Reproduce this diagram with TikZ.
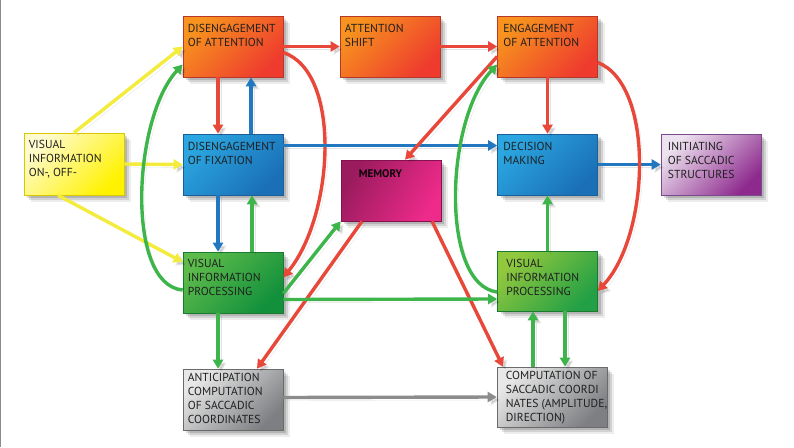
\documentclass[tikz,border=0pt]{standalone}
\usepackage{fontspec}
\setmainfont{PT Sans}
\usetikzlibrary{arrows.meta,shadows}
\definecolor{orA}{HTML}{F7931E}
\definecolor{orB}{HTML}{EE3B2E}
\definecolor{orD}{HTML}{B8372B}
\definecolor{blA}{HTML}{2BA6E0}
\definecolor{blB}{HTML}{1A6FB7}
\definecolor{blD}{HTML}{1A5E9A}
\definecolor{yeA}{HTML}{FFFBD0}
\definecolor{yeB}{HTML}{FFF200}
\definecolor{yeD}{HTML}{D8C800}
\definecolor{grA}{HTML}{5CBB4A}
\definecolor{grB}{HTML}{12903C}
\definecolor{grD}{HTML}{1A7A30}
\definecolor{lgA}{HTML}{92C83E}
\definecolor{lgB}{HTML}{23A045}
\definecolor{mgA}{HTML}{9A1B5E}
\definecolor{mgB}{HTML}{EE2A8A}
\definecolor{mgD}{HTML}{85124F}
\definecolor{puA}{HTML}{EDE3F0}
\definecolor{puB}{HTML}{8E2A8E}
\definecolor{puD}{HTML}{7B4A8C}
\definecolor{gyA}{HTML}{E8E8E8}
\definecolor{gyB}{HTML}{7D7F82}
\definecolor{gyD}{HTML}{6A6A6A}
\definecolor{aR}{HTML}{E8483A}
\definecolor{aB}{HTML}{2178C0}
\definecolor{aG}{HTML}{3DB54A}
\definecolor{aY}{HTML}{F4EC3C}
\definecolor{aGy}{HTML}{8C8C8C}
\begin{document}
\begin{tikzpicture}[x=1pt,y=-1pt,
  boxbase/.style={rectangle, minimum width=100pt, minimum height=61pt, inner sep=0pt, line width=0.6pt,
    general shadow={shadow xshift=3pt,shadow yshift=-3pt,fill=black,opacity=0.14},
    general shadow={shadow xshift=5pt,shadow yshift=-5pt,fill=black,opacity=0.11},
    general shadow={shadow xshift=7pt,shadow yshift=-7pt,fill=black,opacity=0.07}},
  orbox/.style={boxbase, draw=orD, top color=orA, bottom color=orB, shading angle=45},
  blbox/.style={boxbase, draw=blD, top color=blA, bottom color=blB, shading angle=45},
  yebox/.style={boxbase, draw=yeD, top color=yeA, bottom color=yeB, shading angle=45},
  grbox/.style={boxbase, draw=grD, top color=grA, bottom color=grB, shading angle=45},
  lgbox/.style={boxbase, draw=grD, top color=lgA, bottom color=lgB, shading angle=45},
  mgbox/.style={boxbase, draw=mgD, top color=mgA, bottom color=mgB, shading angle=60},
  pubox/.style={boxbase, draw=puD, top color=puA, bottom color=puB, shading angle=45},
  gybox/.style={boxbase, draw=gyD, top color=gyA, bottom color=gyB, shading angle=45},
  txt/.style={anchor=north west, align=left, inner sep=0pt, text=black!88,
    font=\fontsize{11.6}{14.2}\selectfont},
  arr/.style={line width=3.4pt, -{Triangle[length=9pt,width=10pt]},
    preaction={draw=black, opacity=0.10, transform canvas={xshift=3pt,yshift=-3pt}}},
  red/.style={arr, draw=aR},
  blue/.style={arr, draw=aB},
  green/.style={arr, draw=aG},
  yellow/.style={arr, draw=aY},
  grey/.style={arr, draw=aGy}]
\useasboundingbox (0,0) rectangle (794,447);
\fill[white] (0,0) rectangle (794,447);
\draw[black!45, line width=1.2pt] (0.6,0) -- (0.6,447);

% boxes
\node[orbox] (doa) at (233,46.5) {};
\node[orbox] (shift) at (390,46.5) {};
\node[orbox] (eoa) at (547.5,46.5) {};
\node[yebox, minimum height=62pt] (vi) at (74,164) {};
\node[blbox] (dof) at (233,164.5) {};
\node[mgbox] (mem) at (391,190.5) {};
\node[blbox] (dm) at (547.5,164.5) {};
\node[pubox] (init) at (711,164.5) {};
\node[grbox] (vipl) at (233,282.5) {};
\node[lgbox, minimum height=60pt] (vipr) at (547.5,281) {};
\node[gybox] (ant) at (233,399.5) {};
\node[gybox, minimum width=110pt, minimum height=60pt] (comp) at (552,397) {};

% texts
\node[txt] (doat) at ([xshift=5pt,yshift=-8pt]doa.north west) {DISENGAGEMENT\\OF ATTENTION};
\node[txt] (shiftt) at ([xshift=5pt,yshift=-8pt]shift.north west) {ATTENTION\\SHIFT};
\node[txt] (eoat) at ([xshift=6pt,yshift=-8pt]eoa.north west) {ENGAGEMENT\\OF ATTENTION};
\node[txt] (vit) at ([xshift=5pt,yshift=-7pt]vi.north west) {VISUAL\\INFORMATION\\ON-, OFF-};
\node[txt] (doft) at ([xshift=5pt,yshift=-8pt]dof.north west) {DISENGAGEMENT\\OF FIXATION};
\node[txt, font=\fontsize{11}{14}\selectfont\bfseries, text=black!90!mgA] (memt) at ([xshift=18pt,yshift=-10pt]mem.north west) {MEMORY};
\node[txt] (dmt) at ([xshift=6pt,yshift=-8pt]dm.north west) {DECISION\\MAKING};
\node[txt] (initt) at ([xshift=7pt,yshift=-8pt]init.north west) {INITIATING\\OF SACCADIC\\STRUCTURES};
\node[txt] (viplt) at ([xshift=5pt,yshift=-7pt]vipl.north west) {VISUAL\\INFORMATION\\PROCESSING};
\node[txt] (viprt) at ([xshift=9pt,yshift=-8pt]vipr.north west) {VISUAL\\INFORMATION\\PROCESSING};
\node[txt] (antt) at ([xshift=5pt,yshift=-4pt]ant.north west) {ANTICIPATION\\COMPUTATION\\OF SACCADIC\\COORDINATES};
\node[txt] (compt) at ([xshift=9pt,yshift=-4pt]comp.north west) {COMPUTATION OF\\SACCADIC COORDI\\NATES (AMPLITUDE,\\DIRECTION)};

% yellow arrows
\draw[yellow] (vi.north) -- (doa.west);
\draw[yellow] (vi.east) -- (dof.west);
\draw[yellow] ([xshift=-16pt]vi.south) -- ([yshift=20.5pt]vipl.west);

% left column
\draw[red] ([xshift=-15pt]doa.south) -- ([xshift=-15pt]dof.north);
\draw[blue] ([xshift=18pt]dof.north) -- ([xshift=18pt]doa.south);
\draw[blue] ([xshift=-15pt]dof.south) -- ([xshift=-15pt]vipl.north);
\draw[green] ([xshift=19pt]vipl.north) -- ([xshift=19pt]dof.south);
\draw[green] ([xshift=-15pt]vipl.south) -- ([xshift=-15pt]ant.north);
\draw[green] ([yshift=-7.5pt]vipl.west) .. controls (125,285) and (133,118) .. ([yshift=-18pt]doa.west);
\draw[red] ([yshift=-6pt]doa.east) .. controls (342,72) and (334,215) .. ([yshift=5pt]vipl.east);

% top row
\draw[red] (doa.east) -- (shift.west);
\draw[red] (shift.east) -- (eoa.west);

% middle
\draw[blue] ([yshift=19pt]dof.east) -- ([yshift=19pt]dm.west);
\draw[red] ([yshift=-10pt]eoa.west) -- ([xshift=14pt]mem.north);
\draw[green] ([yshift=-11pt]vipl.east) -- (mem.south west);
\draw[red] ([xshift=-29pt]mem.south) -- ([xshift=24pt]ant.north);
\draw[red] ([xshift=41pt]mem.south) -- ([xshift=-49pt]comp.north);
\draw[green] ([yshift=-17pt]vipl.east) -- ([yshift=-18pt]vipr.west);
\draw[grey] ([yshift=2pt]ant.east) -- (comp.west);

% right column
\draw[red] (eoa.south) -- (dm.north);
\draw[blue] (dm.east) -- (init.west);
\draw[green] (vipr.north) -- (dm.south);
\draw[green] ([yshift=-11pt]vipr.west) .. controls (440,285) and (445,120) .. ([yshift=-18pt]eoa.west);
\draw[red] ([yshift=-16pt]eoa.east) .. controls (655,85) and (650,235) .. ([yshift=-10pt]vipr.east);
\draw[green] ([xshift=-19pt]comp.north) -- ([xshift=-14.5pt]vipr.south);
\draw[green] ([xshift=17.5pt]vipr.south) -- ([xshift=13pt]comp.north);
\end{tikzpicture}
\end{document}
